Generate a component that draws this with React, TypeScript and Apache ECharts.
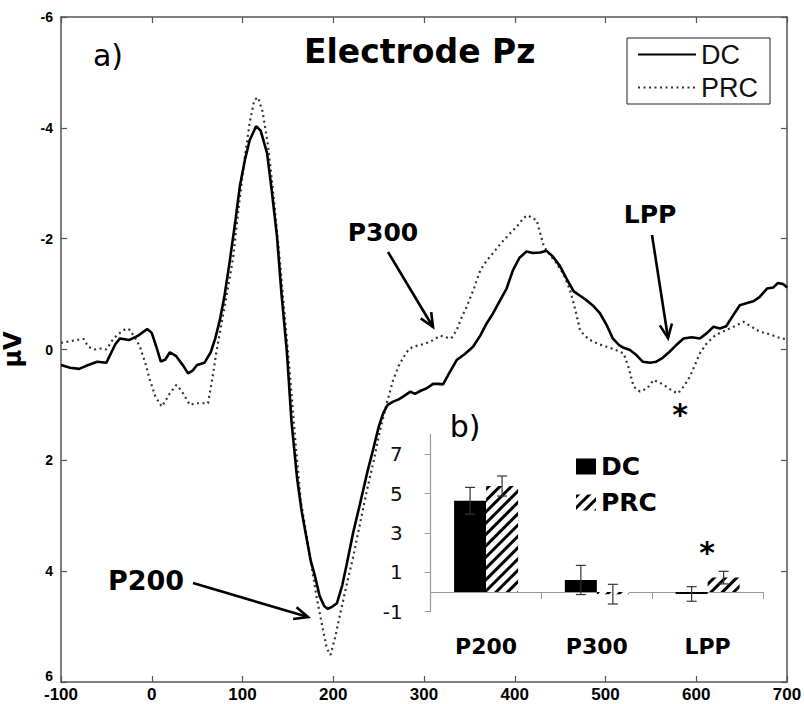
import React, { useEffect, useRef } from 'react';
import * as echarts from 'echarts';

// ---- Main ERP waveform (Electrode Pz), time in ms, amplitude in µV ----
const dcTime = [-100, -90, -80, -70, -60, -50, -40, -35, -25, -15, -5, 0, 5, 10, 15, 20, 27, 35, 40, 45, 50, 58, 65, 70, 75, 80, 86, 92, 97, 103, 108, 115, 120, 127, 132, 138, 143, 149, 154, 160, 165, 170, 175, 180, 185, 190, 194, 198, 204, 210, 215, 222, 230, 237, 244, 250, 255, 260, 266, 272, 277, 285, 290, 297, 303, 310, 316, 321, 327, 336, 345, 354, 362, 369, 376, 384, 391, 398, 405, 413, 420, 428, 435, 442, 450, 458, 465, 472, 479, 487, 494, 501, 508, 515, 520, 527, 534, 541, 549, 556, 563, 570, 578, 586, 595, 604, 612, 619, 626, 633, 640, 648, 656, 663, 670, 678, 685, 690, 696, 700];
const dcValue = [0.28, 0.33, 0.35, 0.28, 0.22, 0.24, -0.1, -0.2, -0.17, -0.25, -0.37, -0.3, -0.05, 0.22, 0.18, 0.05, 0.12, 0.3, 0.43, 0.38, 0.28, 0.24, 0.05, -0.2, -0.53, -0.95, -1.6, -2.3, -2.94, -3.45, -3.78, -4.03, -3.95, -3.55, -2.9, -2.04, -1.0, 0.06, 1.3, 2.3, 2.9, 3.35, 3.8, 4.1, 4.45, 4.63, 4.68, 4.65, 4.58, 4.25, 3.86, 3.3, 2.75, 2.25, 1.8, 1.4, 1.15, 1.0, 0.94, 0.9, 0.85, 0.76, 0.8, 0.74, 0.7, 0.62, 0.62, 0.63, 0.45, 0.19, 0.08, -0.05, -0.25, -0.47, -0.65, -0.89, -1.1, -1.43, -1.65, -1.77, -1.74, -1.75, -1.78, -1.68, -1.5, -1.25, -1.05, -0.97, -0.89, -0.78, -0.65, -0.45, -0.2, -0.08, -0.03, 0.01, 0.1, 0.22, 0.24, 0.22, 0.15, 0.05, -0.08, -0.2, -0.22, -0.2, -0.3, -0.41, -0.38, -0.42, -0.6, -0.8, -0.84, -0.87, -0.95, -1.1, -1.12, -1.2, -1.18, -1.12];

const prcTime = [-100, -90, -80, -75, -70, -63, -55, -50, -42, -35, -28, -24, -18, -13, -7, -2, 4, 11, 16, 20, 27, 33, 42, 48, 53, 62, 67, 71, 75, 79, 85, 90, 96, 102, 108, 113, 117, 122, 128, 134, 140, 146, 152, 158, 164, 170, 176, 182, 188, 193, 197, 202, 207, 214, 222, 230, 237, 244, 251, 259, 266, 272, 277, 283, 288, 295, 300, 307, 313, 318, 324, 330, 336, 342, 347, 355, 362, 369, 376, 385, 395, 404, 410, 415, 420, 424, 428, 432, 439, 446, 454, 461, 467, 472, 477, 483, 492, 501, 510, 520, 525, 531, 538, 546, 553, 560, 567, 574, 580, 587, 593, 598, 604, 611, 619, 626, 633, 641, 646, 652, 660, 670, 680, 690, 700];
const prcValue = [-0.12, -0.15, -0.18, -0.19, -0.05, 0.0, -0.02, 0.0, -0.2, -0.3, -0.38, -0.35, -0.2, -0.05, 0.25, 0.55, 0.85, 1.03, 0.9, 0.79, 0.64, 0.75, 1.0, 0.97, 0.97, 0.97, 0.5, 0.07, -0.3, -0.66, -1.2, -1.7, -2.6, -3.4, -4.1, -4.5, -4.55, -4.3, -3.7, -2.8, -1.8, -0.7, 0.4, 1.6, 2.7, 3.3, 3.9, 4.5, 5.0, 5.4, 5.51, 5.2, 4.82, 4.3, 3.74, 3.1, 2.55, 2.05, 1.5, 0.97, 0.55, 0.3, 0.15, 0.0, -0.05, -0.08, -0.1, -0.14, -0.2, -0.25, -0.22, -0.2, -0.35, -0.6, -0.77, -1.1, -1.43, -1.6, -1.74, -1.92, -2.1, -2.25, -2.38, -2.42, -2.36, -2.34, -2.1, -1.86, -1.7, -1.56, -1.35, -1.07, -0.7, -0.35, -0.25, -0.17, -0.1, -0.05, 0.0, 0.07, 0.3, 0.67, 0.76, 0.7, 0.55, 0.6, 0.67, 0.75, 0.79, 0.65, 0.49, 0.3, 0.07, -0.1, -0.23, -0.3, -0.35, -0.41, -0.45, -0.5, -0.42, -0.32, -0.28, -0.22, -0.18];

// ---- Inset bar chart (b) ----
const barCategories = ['P200', 'P300', 'LPP'];
const dcBarMeans = [4.63, 0.61, -0.1];
const dcBarErrors = [0.68, 0.74, 0.37];
const prcBarMeans = [5.38, -0.11, 0.73];
const prcBarErrors = [0.51, 0.5, 0.32];
const insetTickValues = [-1, 1, 3, 5, 7];

const BAR_W = 32;
const AX = '#555';

function arrow(x1: number, y1: number, x2: number, y2: number) {
  const a = Math.atan2(y2 - y1, x2 - x1);
  const L = 15;
  const s = 0.42;
  const st = { stroke: '#000', lineWidth: 2.6, fill: null as any };
  return [
    { type: 'line', shape: { x1, y1, x2, y2 }, style: st, z: 50 },
    {
      type: 'polyline',
      shape: {
        points: [
          [x2 - L * Math.cos(a - s), y2 - L * Math.sin(a - s)],
          [x2, y2],
          [x2 - L * Math.cos(a + s), y2 - L * Math.sin(a + s)],
        ],
      },
      style: st,
      z: 50,
    },
  ];
}

function txt(text: string, x: number, y: number, font: string, rotation = 0) {
  return {
    type: 'text',
    x,
    y,
    rotation,
    z: 50,
    style: { text, font, fill: '#000', textAlign: 'center', textVerticalAlign: 'middle' },
  };
}

function errRender(offset: number) {
  return (params: any, api: any) => {
    const i = api.value(0);
    const m = api.value(1);
    const e = api.value(2);
    const c = api.coord([i, m]);
    const t = api.coord([i, m + e]);
    const b = api.coord([i, m - e]);
    const x = c[0] + offset;
    const cap = 5;
    const style = { stroke: '#333', lineWidth: 1.2 };
    return {
      type: 'group',
      children: [
        { type: 'line', shape: { x1: x, y1: t[1], x2: x, y2: b[1] }, style },
        { type: 'line', shape: { x1: x - cap, y1: t[1], x2: x + cap, y2: t[1] }, style },
        { type: 'line', shape: { x1: x - cap, y1: b[1], x2: x + cap, y2: b[1] }, style },
      ],
    };
  };
}

export default function App() {
  const ref = useRef<HTMLDivElement>(null);
  useEffect(() => {
    if (!ref.current) return;
    const chart = echarts.init(ref.current, null, { renderer: 'svg' });
    const hatch = {
      symbol: 'rect',
      symbolSize: 1,
      color: '#000',
      dashArrayX: [1, 0],
      dashArrayY: [3, 5],
      rotation: -Math.PI / 4,
    };
    const mainAxisCommon = {
      axisLine: { show: true, onZero: false, lineStyle: { color: AX, width: 1.5 } },
      axisTick: { show: true, inside: true, length: 6, lineStyle: { color: AX, width: 1.2 } },
      splitLine: { show: false },
    };
    const option: any = {
      animation: false,
      backgroundColor: '#fff',
      title: {
        text: 'Electrode Pz',
        left: 304,
        top: 35,
        padding: 0,
        textStyle: { fontFamily: 'DejaVu Sans', fontWeight: 'bold', fontSize: 33, color: '#000' },
      },
      legend: [
        {
          data: ['DC', 'PRC'],
          orient: 'vertical',
          left: 627,
          top: 38,
          padding: [3, 12, 3, 10],
          itemWidth: 58,
          itemHeight: 14,
          itemGap: 6,
          itemTextGap: 7,
          itemStyle: { opacity: 0 },
          borderColor: '#222',
          borderWidth: 1,
          backgroundColor: '#fff',
          textStyle: { fontFamily: 'Liberation Sans', fontSize: 27, color: '#111' },
          selectedMode: false,
        },
        {
          data: ['DC mean', 'PRC mean'],
          orient: 'vertical',
          left: 576,
          top: 454,
          padding: 0,
          icon: 'rect',
          itemWidth: 20,
          itemHeight: 16,
          itemGap: 11,
          itemTextGap: 10,
          formatter: (n: string) => n.split(' ')[0],
          textStyle: { fontFamily: 'DejaVu Sans', fontWeight: 'bold', fontSize: 25, color: '#000' },
          selectedMode: false,
        },
      ],
      grid: [
        { left: 61, right: 17, top: 17, bottom: 22, outerBoundsMode: 'none', containLabel: false },
        { left: 430.7, top: 434.4, width: 332.3, height: 177.3, outerBoundsMode: 'none', containLabel: false },
      ],
      xAxis: [
        {
          ...mainAxisCommon,
          type: 'value',
          gridIndex: 0,
          position: 'bottom',
          min: -100,
          max: 700,
          interval: 100,
          axisLabel: { margin: 4, fontFamily: 'Liberation Sans', fontWeight: 'bold', fontSize: 17, color: '#000' },
        },
        {
          ...mainAxisCommon,
          type: 'value',
          gridIndex: 0,
          position: 'top',
          min: -100,
          max: 700,
          interval: 100,
          axisLabel: { show: false },
        },
        {
          type: 'category',
          gridIndex: 1,
          data: barCategories,
          boundaryGap: true,
          axisLine: { show: true, onZero: true, lineStyle: { color: '#999', width: 1.2 } },
          axisTick: { show: true, length: 7, lineStyle: { color: '#999' } },
          axisLabel: { margin: 24, fontFamily: 'DejaVu Sans', fontWeight: 'bold', fontSize: 22, color: '#000' },
          splitLine: { show: false },
        },
      ],
      yAxis: [
        {
          ...mainAxisCommon,
          type: 'value',
          gridIndex: 0,
          position: 'left',
          inverse: true,
          min: -6,
          max: 6,
          interval: 2,
          name: 'μV',
          nameLocation: 'middle',
          nameGap: 36,
          nameRotate: 90,
          nameTextStyle: { fontFamily: 'DejaVu Sans', fontWeight: 'bold', fontSize: 24, color: '#000' },
          axisLabel: {
            margin: 8,
            fontFamily: 'Liberation Sans',
            fontWeight: 'bold',
            fontSize: 14,
            color: '#000',
            formatter: (v: number) => (v === 6 ? '{up|6}' : String(v)),
            rich: {
              up: { fontFamily: 'Liberation Sans', fontWeight: 'bold', fontSize: 14, color: '#000', padding: [0, 0, 12, 0] },
            },
          },
        },
        {
          ...mainAxisCommon,
          type: 'value',
          gridIndex: 0,
          position: 'right',
          inverse: true,
          min: -6,
          max: 6,
          interval: 2,
          axisLabel: { show: false },
        },
        {
          type: 'value',
          gridIndex: 1,
          min: -1,
          max: 8,
          interval: 1,
          axisLine: { show: true, onZero: false, lineStyle: { color: '#999', width: 1.2 } },
          axisTick: { show: true, length: 6, customValues: insetTickValues, lineStyle: { color: '#999' } },
          axisLabel: { margin: 28, customValues: insetTickValues, fontFamily: 'DejaVu Sans', fontSize: 20, color: '#111' },
          splitLine: { show: false },
        },
      ],
      graphic: [
        txt('a)', 108, 55, '30px "DejaVu Sans"'),
        txt('b)', 465, 426, '30px "DejaVu Sans"'),
        txt('P200', 146, 580, 'bold 27px "DejaVu Sans"'),
        txt('P300', 383, 232, 'bold 25px "DejaVu Sans"'),
        txt('LPP', 650, 214, 'bold 25px "DejaVu Sans"'),
        txt('*', 680, 414, 'bold 30px "DejaVu Sans"'),
        txt('*', 707, 552, 'bold 30px "DejaVu Sans"'),
        ...arrow(193, 583, 308, 617),
        ...arrow(388, 252, 433, 327),
        ...arrow(652, 235, 668, 338),
      ],
      series: [
        {
          name: 'DC',
          type: 'line',
          xAxisIndex: 0,
          yAxisIndex: 0,
          symbol: 'none',
          data: dcTime.map((t, i) => [t, dcValue[i]]),
          lineStyle: { color: '#000', width: 2.6 },
          itemStyle: { color: '#000' },
          z: 3,
        },
        {
          name: 'PRC',
          type: 'line',
          xAxisIndex: 0,
          yAxisIndex: 0,
          symbol: 'none',
          data: prcTime.map((t, i) => [t, prcValue[i]]),
          lineStyle: { color: '#333', width: 2.2, type: [2, 3.5] },
          itemStyle: { color: '#333' },
          z: 2,
        },
        {
          name: 'DC mean',
          type: 'bar',
          xAxisIndex: 2,
          yAxisIndex: 2,
          barWidth: BAR_W,
          barGap: '0%',
          data: dcBarMeans,
          itemStyle: { color: '#000' },
        },
        {
          name: 'PRC mean',
          type: 'bar',
          xAxisIndex: 2,
          yAxisIndex: 2,
          barWidth: BAR_W,
          barGap: '0%',
          data: prcBarMeans,
          itemStyle: { color: '#fff', decal: hatch },
        },
        {
          type: 'custom',
          xAxisIndex: 2,
          yAxisIndex: 2,
          renderItem: errRender(-BAR_W / 2),
          data: barCategories.map((c, i) => [i, dcBarMeans[i], dcBarErrors[i]]),
          z: 10,
        },
        {
          type: 'custom',
          xAxisIndex: 2,
          yAxisIndex: 2,
          renderItem: errRender(BAR_W / 2),
          data: barCategories.map((c, i) => [i, prcBarMeans[i], prcBarErrors[i]]),
          z: 10,
        },
      ],
    };
    chart.setOption(option);
    return () => chart.dispose();
  }, []);
  return <div ref={ref} style={{ position: 'fixed', left: 0, top: 0, width: 804, height: 704 }} />;
}
